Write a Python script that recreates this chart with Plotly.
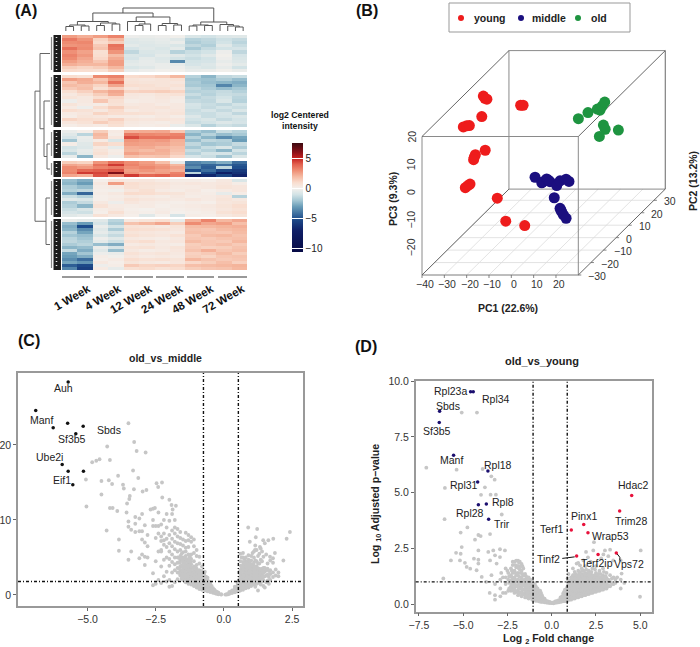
import plotly.graph_objects as go
import numpy as np

W, H = 700, 647
FONT = "Liberation Sans"

# ---------- heatmap data ----------
week_labels = ["1 Week","4 Week","12 Week","24 Week","48 Week","72 Week"]
c1 = [
[2.6,2.2,2.6,3.2,-.2,-.3,-.2,-.1,-.8,-1,-.7,-.6],
[3.4,2.8,1.2,2.0,-.6,-.5,-.4,-.6,-1.6,-1.4,-1.1,-1.3],
[3.0,3.1,1.0,1.4,-.7,-.6,-.5,-.3,-1.8,-1.5,-1,-1.5],
[2.8,2.9,1.5,3.6,-.5,-.7,-.6,-.8,-1.4,-1.7,-.6,-1.2],
[3.6,3.0,1.7,3.4,-.9,-.6,-.8,-.5,-1.9,-1.3,-1.0,-.9],
[2.9,2.5,.8,2.8,-1.4,-.8,-.7,-1.6,-1.2,-1.0,-.2,-1.4],
[3.2,2.7,.9,1.9,-.8,-.9,-.5,-.6,-1.0,-.6,-.1,-.9],
[3.0,2.4,1.1,2.3,-.9,-.5,-.7,-1,-1.2,-1,-.2,-.8],
[2.6,2.2,1.6,2.6,-.6,-.4,-.6,-3.5,-1.0,-.9,-.4,-.7],
[2.2,2.0,2.0,2.6,-.5,-.4,-.3,-.4,-.9,-.7,-.2,-.5],
[1.4,1.2,1.4,2,-.8,-.6,-.3,-.2,-.6,-.8,-.4,-1],
[1,.9,.8,1.4,-.4,-.2,-.1,-.1,-.4,-.3,-.1,-.3]]
c2 = [
[.9,.7,3,3.2,1,1.1,1.4,2,-1.6,-2.4,-1.4,-1.2],
[2.6,2.3,1.6,2.6,.6,.5,.6,.7,-2,-2.1,-1.8,-2.2],
[1.6,2.2,2,3.6,.7,.6,.6,.5,-1.8,-2.2,-2.4,-2.6],
[1.9,1.7,1.2,2.4,.9,.8,.6,.7,-1.9,-2,-3.6,-2.4],
[1.5,1.8,.8,1.3,.5,.7,.8,.5,-1.4,-1.8,-2.2,-1.9],
[.8,1.3,2,2.4,1.2,1.3,1.4,1.2,-1.6,-1.5,-1.3,-1.6],
[.4,.8,1.4,2.2,.5,.4,.6,.7,-1.2,-1.6,-1.2,-1.3],
[.6,.4,.9,1.1,.4,.3,.5,.3,-1.6,-1.3,-1,-1.5],
[-.2,.4,1.6,.8,.2,.3,.4,.2,-1.3,-1.4,-.8,-1.6],
[.6,.3,.2,.7,.4,.5,.3,.4,-.9,-1.2,-1.4,-1],
[.3,-.2,.9,1.4,.6,.5,.6,.4,-1,-1.3,-1,-1.2],
[.9,.7,.4,1,.3,.5,.4,.5,-1.2,-.9,-1.3,-.8],
[.3,.5,1.2,.9,.8,.7,.5,.6,-1.1,-1.2,-.9,-1.4],
[.2,.6,.5,.3,.3,.2,.4,.2,-.7,-1.2,-1,-.8],
[1.2,.9,.8,1.3,.6,.5,.6,.5,-1,-.8,-1.3,-1],
[.5,.7,1.4,1,.4,.3,.2,.4,-1.2,-1,-.7,-.9],
[.2,.4,.3,.8,.3,.2,.3,-.3,-.8,-1.6,-1.1,-1.3]]
c3 = [
[-.3,.1,1.4,.3,2.2,2.3,2.4,1.6,-1.8,-2.2,-1.2,-1.6],
[-.6,-1.5,2,.2,3.4,3.1,3,3.2,-2.4,-1.6,-2.2,-1.9],
[-.9,-.3,1.8,.5,4.3,3.6,3.6,3.4,-1.6,-2.4,-3.4,-2.8],
[-2,-.4,.3,-.8,2.8,2.6,2.7,2.2,-2.2,-1.4,-1.6,-3],
[.2,-.6,1.2,.9,2.6,2.5,2.4,2.1,-1.4,-2,-1.8,-1.3],
[-1,-.7,.4,-.4,2.2,2.3,2,1.8,-1.9,-1.2,-.8,-1.8],
[-.8,-.4,.6,.2,2.1,1.9,2.2,1.7,-1.2,-1.6,-2.4,-1],
[-1.5,-.5,.8,.3,2.5,2.2,2.1,1.5,-1.6,-1,-.9,-1.5],
[-.4,-2.4,.4,-.2,1.8,1.6,1.7,1.1,-.9,-1.2,-2,-.8]]
c4 = [
[1.4,1.2,2.8,3.6,3,2.6,1.8,-.4,-3.6,-3.2,-2.6,-4.2],
[2.4,2.2,3.6,4.6,3.2,2.8,2.6,2,-4,-4.4,-4.2,-4.8],
[3,2.7,3.2,3.4,2.9,3.1,2.8,2.4,-3.4,-4.6,-1.4,-5],
[3,3.8,4,4.2,2.6,2.8,2.5,2.2,-5,-4.2,-5.4,-5.8],
[3.2,4.6,4.4,6.2,2.8,2.4,2.6,3.2,-1.5,-5.2,-7,-6.2],
[2.4,2.2,4.2,3.2,4.6,3.8,4,3.4,-7.5,-6.6,-5.4,-6.8]]
c5 = [
[-2.2,-2.6,.1,.5,.4,.5,.3,.2,.2,.1,.4,-.8],
[-2.4,-3,.4,2.6,.9,.7,.6,.4,.5,.4,.5,.2],
[-1.8,-2.2,.2,.3,.8,.6,.5,.3,.3,.4,.6,.5],
[-1.6,-1.4,.1,-.1,.5,.8,.3,.2,.4,.1,.3,.5],
[-2.6,-4.4,.2,.4,1,.9,.7,.6,.3,.2,-.4,.2],
[-1.2,-1.6,.1,.2,.4,.3,.2,.4,.2,.3,.5,-1.6],
[-.6,-.8,.1,.3,.7,.5,.4,.3,.5,.3,.6,.4],
[-1.8,-1.3,.4,-.2,.5,.3,.2,.1,.2,.1,.5,.6],
[-1.6,-2.4,.7,.3,.2,.3,.1,.2,.3,.4,.6,.9],
[-1.2,-.8,.2,.4,.1,0,.2,.1,.2,.3,.5,.7],
[-.9,-1.1,.1,.8,.2,.1,.3,0,.1,.2,.7,.9],
[-.6,-.4,.7,.4,.1,-.6,0,-.9,.2,.1,.4,.6]]
c6 = [
[-.3,-.5,-.6,-1.5,.4,.6,.9,-.4,2.2,3.2,2,2.4],
[-2.2,-3,-.9,-1.8,1.7,2,2.4,1.4,3,2.4,2.6,1.8],
[-2.6,-5,-.3,-1,.7,.6,.4,.6,1.9,2,2.1,2.2],
[-2.4,-3.4,-.6,-1.8,.9,.8,.7,.5,1.7,1.6,1.9,2],
[-1.6,-2.8,-.4,-.9,.6,.5,.4,.3,1.8,1.7,1.6,1.9],
[-2,-2.2,-.8,-1.3,.8,.6,.5,.7,1.5,1.9,2,1.7],
[-1.5,-2,-.2,-.6,.4,.3,.2,.4,1.6,1.5,1.7,1.8],
[-1.4,-1.7,-.5,-1.1,.7,.9,.4,.5,1.9,1.6,1.5,2],
[-1.8,-1.5,-2.2,-2.6,.3,.4,.3,.2,1.4,1.6,1.8,1.5],
[-2.4,-2.2,-.3,-.9,.6,.7,.4,.6,1.5,1.3,1.4,1.7],
[-1.3,-2.6,-.6,-2.2,.4,.2,.3,.5,1.7,2.2,1.6,1.8],
[-2.8,-2,-.2,-.3,.7,.5,.6,.4,1.3,1.5,1.9,1.4],
[-3,-2.6,.2,-.1,.5,.3,.4,.3,1.4,1.2,1.6,1.7],
[-3.4,-4.2,.1,.3,.9,.7,.8,.6,2,1.7,1.5,1.6],
[-2.8,-3.2,.4,.1,.6,.4,.3,.5,1.1,1.4,1.8,1.3],
[-4.6,-5.2,-.2,.2,1.5,1.2,1.3,1.2,1.8,1.9,2,2.1],
[-3.6,-5.6,.3,-.4,.8,1,.7,.9,1.4,1.6,1.7,2]]
color_ticks = [-10, -5, 0, 5]

# ---------- PCA data ----------
young_pc1 = [-35.1,-34.4,-33.5,-35.8,-18.4,-17.3,-35.6,-34.1,-32.9,-25.8,-30.2,-30.7,-31,-32.6,-33.6,-34.7,-20.4,-16.6,-8.1]
young_pc2 = [10,10,10,10,10,10,-5,-5,-5,-5,-5,-5,-5,-5,-5,-5,-5,-5,-5]
young_pc3 = [16.6,15.8,15.5,9.2,13.3,13.3,12.2,12.6,12.7,3.8,2.2,1.3,.4,-8.4,-9,-9.7,-13.5,-21.8,-23.4]
middle_pc1 = [-6.3,-3.3,-2.6,-1.1,-.4,.4,3.4,4.9,7.6,8.9,2.3,4.9,5.2,5.6,6.4,7.6]
middle_pc2 = [0]*16
middle_pc3 = [-8.2,-10.2,-9.8,-8.8,-9.2,-9.8,-11.2,-9.5,-8.9,-9.7,-15.6,-19.4,-20,-20.6,-21.8,-23]
old_pc1 = [-1,3.3,7.5,8.7,9.7,10.8,10.2,11,16.9,8.4]
old_pc2 = [25]*10
old_pc3 = [1.7,3.9,5.2,4.8,6.3,7.7,-.6,-2.1,-2.4,-4.7]
pc1_ticks = [-40,-30,-20,-10,0,10,20]
pc2_ticks = [-30,-20,-10,0,10,20,30]
pc3_ticks = [-20,-10,0,10,20]
group_names = ["young","middle","old"]

# ---------- old_vs_middle ----------
cm_hit_x = [-5.71,-6.9,-6.26,-5.73,-5.16,-5.43,-5.93,-5.71,-5.15,-5.54]
cm_hit_y = [28.4,24.6,22.3,22.9,22.5,21.5,17.4,16.5,16.5,14.7]
cm_top_x = [-3.5,-3.29,-3.2,-2.87,-4.28,-4.18,-4.56,-4.68,-4.83,-3.33,-3.14,-3.88,-5.06,-4.49,-4.22,-4.1,-3.7,-3.67,-4.49,-3.3,-2.84,-2.98,-2.47,-2.27,-2.41,-3.45,-3.47,-3.55,-2.26,-2,-1.92,-1.76,-1.88,-5.04,-4.18,-4.08,-3.91,-3.57,-2.69,-2.53,-4.3]
cm_top_y = [22.9,20.4,19.2,19,19.8,18,18.1,17.9,17.7,16.6,15.6,15.9,15.4,15.2,15.3,14.8,14.7,14.2,13.4,14.1,14,13.8,14.9,15,14.4,13.2,12.8,12.2,13,12.7,12,11.9,11.4,11.8,11.6,11.6,11.2,11,11.4,11.6,8.6]
cm_col_x = [-3.85,-3.5,-3.4,-3.25,-3.1,-3,-2.9,-2.8,-2.6,-2.5,-2.4,-2.3,-2.2,-2.1,-2,-1.9,-1.8,-1.7,-1.6,-1.5,-1.4,-1.3,-1.2,-1.1,-1,-.9,-.8,-.7,-.6,-.5,-.4,-.3,-.2,-.1,
            -1.55,-1.25,-1.05,-.85,-.75,-.65,-.55,-.45,-.35,-.25]
cm_col_y = [[7.4,5.9],[4.7,9.1,9.8],[5.8,8.7],[8.4,9.5,10.4],[8.5,10.2,4.9],[8.5,7.4,5.4,10.8],[4,5.1,7,9.3],[5,6.5,8],[2.9,9.2,10,11.5,1.3],[1.5,4.5,7.6,9.2],[2,5.8,8.2,9.2,11],
[1.6,3.8,5.8,6,7.2,7.8,9.4],[2.5,4.7,6.7,7.3,8.2,10],[1.8,3.1,5,6.4,7.5,9,10.8],[1.1,2,3.9,4.8,5.8,6.9,8,9.9],[1.2,3,4.4,5.4,6.5,7.5,8.6,10.8],[1.7,3.3,4.1,5,6.1,7.1,8.2,9,10],
[2.1,3,3.6,4.3,5,5.8,6.9,7.8,8.8],[2.6,3.2,3.8,4.6,5.2,6,6.8,7.6,8.4],[2,2.5,3,3.6,4.3,5,5.7,6.6,7.4],[1.7,2.2,2.8,3.4,4,4.6,5.2,5.8,6.3,7.2,8.3],[1.5,2,2.4,3,3.6,4.2,4.8,5.4,6.4,7.3,8],
[1.4,1.8,2.1,2.4,2.7,3,3.5,4.1,4.8,5.4,7.1,7.7],[1.2,1.6,1.9,2.2,2.5,2.9,3.2,3.8,4.5,5.6,6.5,7.4],[1,1.4,1.7,2,2.3,2.6,3,3.5,4,5.2,6],[.8,1.1,1.5,1.8,2.1,2.4,2.8,3.3,4.2,5.1],[.7,1,1.3,1.6,1.9,2.3,2.7,3.2,3.8],[.6,.9,1.2,1.5,1.8,2.1,2.5,3.1],[.5,.75,1,1.3,1.6,1.9,2.3],[.4,.6,.8,1.05,1.3,1.6],[.3,.5,.7,.9],[.2,.35,.5],[.1,.2,.3],[.05,.1],
[2.2,3,3.9,4.9,5.5],[1.8,2.6,3.3,4.4,5.1],[1.3,1.8,2.4,3.1,3.7],[.9,1.3,1.7,2.2,2.6],[.8,1.1,1.5,1.9,2.4,2.9],[.7,1,1.4,1.7,2.1,2.4],[.6,.9,1.2,1.5,1.8],[.45,.7,.95,1.2],[.3,.5,.7],[.15,.3,.4]]
cm_left_fill_x = [-.62,-.72,-.82,-.92,-1.02,-1.12,-1.22,-1.32,-1.42,-1.52,-1.62]
cm_left_fill_y = [[.6,.85,1.15,1.45,1.75,2.1],[.75,1.05,1.35,1.65,1.95,2.3,2.8],[.85,1.15,1.45,1.75,2.05,2.5,3],[.95,1.3,1.6,1.95,2.25,2.6,3.1],[1.2,1.55,1.85,2.15,2.45,2.8,3.3],[1.4,1.75,2.05,2.35,2.7,3.05,3.6],[1.6,1.95,2.25,2.55,2.85,3.3,3.8,4.4],[1.75,2.2,2.55,2.85,3.3,3.9,4.5],[1.95,2.5,3.1,3.7,4.3,4.9],[2.25,2.75,3.3,3.95,4.65],[2.9,3.5,4.3,4.9]]
cm_right_x = [.05,.1,.15,.2,.25,.3,.35,.4,.45,.5,.55,.6,.65,.7,.75,.8,.85,.9,.95,1,1.05,1.1,1.15,1.2,1.25,1.3,1.35,1.4,1.45,1.5,1.55,1.6,1.65,1.7,1.8,1.9,2,
              .89,1.22,2.42,2.3,1.81,1.44,1.63,1.5,1.17,.95,1.32,1.14,1.87,1.69,2.18]
cm_right_y = [[.05],[.05,.12],[.1],[.15,.3,.4],[.3],[.25,.45,.6],[.5],[.35,.6,.85,1.1],[.5,.9],[.5,.75,1,1.3,1.6],[.7,1.2,1.8],[.6,.9,1.2,1.5,1.9,2.3,2.8,3.3,4.5,5.5],[.8,1.4,2.1,2.6,3.6,5],
[.7,1,1.3,1.6,2,2.4,2.8,3.3,3.8,4.4,5,5.6],[.9,1.5,2.2,3,3.6,4.2,4.8],[.9,1.2,1.6,2,2.4,2.8,3.2,3.6,4,4.5,5],[1.1,1.8,2.6,3.4,4.4],[1,1.4,1.8,2.2,2.6,3,3.4,3.8,4.2,4.7,5.3],[1.3,2,2.8,3.5,4.5],
[1.2,1.7,2.1,2.5,2.9,3.3,3.7,4.1,4.6,5.2],[1.5,2.2,3,3.9,5.6],[1.4,1.9,2.3,2.7,3.1,3.5,3.9,4.3,5,5.8],[1.1,2,2.9,3.6,4.6,6.6],[1.5,2,2.5,2.9,3.3,3.8,4.5,6],[.6,1.7,2.6,3.4,4.2,5.2],[1.6,2.1,2.6,3,3.5,4.2,5.5],[1.4,2.3,3.2,4.7,6.2],[1.8,2.3,2.8,3.5,4.5,5.8],[1.2,2,3,3.6,5.1],[1,2.5,3.1,3.6],[1.7,2.6,3.3,5.4],[1.9,2.7,3.5,4.2],[1.5,2.4,3.2],[2,2.8,3.3,4.6],[2.4,3,4.3,4.9],[2.6,3.4],[2.5,3],
[9],[8.8],[8.4],[7.5],[7.5],[7.3],[7.3],[6.9],[7.7],[7.1],[6.4],[6],[5.6],[5.1],[4.6]]
cm_right_fill_x = [.42,.52,.57,.62,.72,.82,.92,1.02,1.12,1.22,1.32,1.42]
cm_right_fill_y = [[.45,.7,.95],[.55,.85,1.15,1.45],[.6,.95,1.3,1.7,2.1],[1,1.7,2.5,3.1,3.9],[1.15,1.8,2.6,3.5,4.2],[1.05,1.4,2.2,3,3.4,3.8,4.3],[1.2,1.6,2,2.4,2.9,3.6,4],[1.4,1.9,2.3,2.7,3.1,3.5,3.9],[1.6,2.1,2.5,2.9,3.3,3.7],[1.8,2.2,2.7,3.1,3.6],[1.9,2.4,2.8,3.2],[2,2.5,3.1]]

# ---------- old_vs_young ----------
cy_down_x = [-4.58,-4.43,-6.33,-6.35,-5.54,-3.6,-4.18,-4.14,-3.69,-3.56]
cy_down_y = [9.52,9.52,8.65,8.14,6.68,5.97,5.48,4.46,4.49,3.81]
cy_up_x = [4.52,3.84,1.81,1.11,2.05,1.41,2.62,3.65]
cy_up_y = [4.87,4.18,3.57,3.32,3.2,2.16,2.23,2.29]
cy_sparse_x = [-5.08,-4.22,-7.08,-5.37,-3.9,-3.41,-3.22,-3.77,-6.03,-3.99,-3.45,-3.15,-2.82,-6.05,-4.76,-5.14,-4.14,-4.01,-4.33,-3.48,
               -6.12,-5.69,-5.08,-5.14,-5.18,-4.8,-4.39,-4.14,-4.14,-4.14,-3.58,-3.3,-2.92,-2.64,-3.2,-3.48,-3.11,-2.92,-3.95,-3.7,-4.24,-4.6,-2.5,-2.2,-2.85,-3.4,-4.9,-5.4,
               5.03,4.99,2.39,3.01,3.3,1.94,2.35,2.92,3.48,3.95,3.9,1.79,1.41,1.6,2.2,2.8,3.2,1.5,1.2,.95,.9,4.1,3.7,2.05]
cy_sparse_y = [8.59,8.59,6.12,6.03,6.06,5.73,5.58,5.24,5.21,4.9,4.91,4.91,4.02,3.81,3.44,3.21,3.1,3.05,2.89,3.14,
               1.15,1.96,2.56,2.26,1.96,1.67,2.04,1.99,2.41,1.82,2.34,2.41,2.46,2.41,2.19,1.96,1.82,2.11,1.22,1,1.52,1.59,1.5,1.75,1.4,1.3,1.85,2.3,
               2.41,.33,2.78,2.41,2.44,2.34,2.41,2.23,1.96,1.37,1.96,1.96,1.82,1.74,1.9,2.05,2.15,1.85,1.6,1.35,1.15,.95,1.2,2.1]
cy_col_x = [-3.5,-3.2,-2.9,-2.75,-2.6,-2.45,-2.3,-2.2,-2.1,-2,-1.9,-1.8,-1.7,-1.6,-1.5,-1.4,-1.3,-1.2,-1.1,-1,-.9,-.8,-.7,-.6,-.5,-.4,-.3,-.2,-.1,0,
            .1,.2,.3,.4,.5,.6,.7,.8,.9,1,1.1,1.2,1.3,1.4,1.5,1.6,1.7,1.8,1.9,2,2.1,2.2,2.3,2.4,2.5,2.6,2.7,2.8,2.9,3,3.1,3.2,3.3,3.5,3.6,3.9]
cy_col_y = [[.5],[.4,.2,.9],[.35,.7,1.1],[.5,1.2],[.5,.9,1.2,1.6],[.6,1.1,1.4],[.6,.8,1.05,1.3,1.6],[.7,1.4,1.9],[.5,.7,.95,1.2,1.5,1.9],[.55,1,1.3,1.65,1.95],[.4,.6,.85,1.1,1.4,1.7,1.95],[.5,.75,1,1.55,1.9],[.35,.55,.75,.95,1.2,1.5,1.8],[.45,.65,1,1.3,1.6],[.3,.5,.7,.9,1.1,1.35],[.3,.6,.85,1.2],[.25,.4,.6,.8,1,1.2],[.3,.5,.7,.95,1.1],[.2,.35,.5,.65,.85,1.05],[.2,.4,.6,.8],[.15,.3,.45,.6,.8],[.15,.25,.4,.55,.7],[.12,.25,.4,.55],[.1,.2,.35,.5],[.1,.2,.3],[.08,.16,.25],[.07,.14],[.06,.12],[.05,.1],[.05],
[.04,.08],[.06,.12],[.07,.14],[.08,.18],[.1,.2,.3],[.12,.24,.36],[.13,.25,.4,.55],[.14,.3,.45,.6],[.15,.3,.45,.6,.8,1],[.2,.4,.55,.75,.95],[.2,.35,.5,.65,.8,1,1.2],[.25,.4,.6,.85,1.05,1.3],[.25,.4,.6,.8,1,1.2,1.45],[.3,.45,.65,.9,1.15],[.3,.5,.7,.9,1.1,1.3,1.5],[.35,.55,.8,1,1.2,1.45],[.35,.55,.75,.95,1.15,1.35,1.6],[.4,.6,.8,1.05,1.25,1.5],[.4,.6,.8,1,1.2,1.4,1.7],[.45,.7,.9,1.1,1.3],[.45,.65,.85,1.05,1.25,1.5],[.5,.7,.9,1.15,1.35],[.5,.7,.9,1.1,1.3,1.6],[.55,.75,1,1.2],[.55,.75,.95,1.15,1.4,1.7],[.6,.8,1,1.25],[.6,.8,1,1.2,1.5],[.65,.85,1.1],[.65,.85,1.05,1.3,1.6],[.7,.9,1.15],[.7,.9,1.15,1.4],[.8,1.05],[.8,1,1.3],[.9,1.2],[.95,1.1],[.7,1.1]]
cy_fill_x = [.65,.75,.85,.95,1.05,1.15,1.25,1.35,1.45,1.55,1.65,1.75,1.85,1.95,2.05,2.15,2.25,2.35,2.45,2.55,2.65,2.75,2.85,2.95,3.05,3.2,3.4,
             -.55,-.65,-.75,-.85,-.95,-1.05,-1.15,-1.25,-1.35,-1.45,-1.55,-1.65,-1.75,-1.85,-1.95,-2.05,-2.15,-2.25,-2.4]
cy_fill_y = [[.18,.32,.48],[.2,.34,.5,.65],[.22,.38,.52,.7],[.23,.38,.52,.7,.9],[.28,.45,.62,.85,1.05],[.3,.47,.72,.95,1.15],[.32,.5,.7,.9,1.1,1.3],[.35,.52,.72,.95,1.1,1.35],[.38,.55,.78,1,1.25],[.4,.6,.8,1,1.2,1.4],[.42,.65,.85,1.1,1.3],[.45,.65,.85,1.05,1.25,1.5],[.5,.7,.9,1.15,1.35],[.5,.7,.9,1.1,1.3,1.55],[.55,.75,.95,1.15,1.4],[.55,.75,.95,1.15,1.35],[.6,.8,1,1.2,1.45],[.6,.8,1,1.25],[.65,.85,1.05,1.3,1.55],[.65,.85,1.1,1.3],[.7,.9,1.1,1.35],[.7,.9,1.1,1.35],[.75,.95,1.2],[.8,1,1.2,1.45],[.8,1,1.25],[.85,1.1],[.9,1.15],
[.14,.26,.4],[.16,.3,.45,.6],[.2,.33,.48,.62],[.22,.36,.5,.68],[.24,.4,.55,.72,.9],[.28,.45,.6,.75,.95],[.3,.45,.6,.78,1],[.32,.5,.7,.9,1.1],[.35,.52,.72,.92,1.1],[.4,.6,.8,1,1.25],[.45,.65,.85,1.05,1.3],[.45,.65,.85,1.1,1.35,1.7],[.5,.7,.9,1.1,1.4,1.7],[.5,.7,.95,1.25,1.6,1.85],[.55,.8,1.05,1.35,1.7],[.6,.85,1.1,1.4,1.75],[.6,.85,1.1,1.45],[.65,.9,1.2,1.5],[.7,.95,1.25]]

def expand(xs, cols):
    out_x, out_y = [], []
    for x, ys in zip(xs, cols):
        for y in ys:
            out_x.append(x); out_y.append(y)
    return out_x, out_y

# ---------- helpers ----------
def fx(px): return px / W
def fy(py): return 1 - py / H

fig = go.Figure()
layout = dict(
    width=W, height=H, margin=dict(l=0, r=0, t=0, b=0, autoexpand=False),
    paper_bgcolor="white", plot_bgcolor="rgba(0,0,0,0)", font=dict(family=FONT, color="#222", size=10),
    hovermode=False, showlegend=False,
    xaxis9=dict(domain=[0, 1], range=[0, W], visible=False, fixedrange=True, anchor="y9"),
    yaxis9=dict(domain=[0, 1], range=[H, 0], visible=False, fixedrange=True, anchor="x9"),
)
shapes, annos = [], []

def page_text(px, py, text, size=10, bold=False, angle=0, color="#222", xanchor="center"):
    t = f"<b>{text}</b>" if bold else text
    annos.append(dict(x=fx(px), y=fy(py), xref="paper", yref="paper", text=t, showarrow=False,
                      textangle=angle, xanchor=xanchor, yanchor="middle",
                      font=dict(family=FONT, size=size, color=color)))

def page_lines(segs, color, width):
    xs, ys = [], []
    for (a, b, c, d) in segs:
        xs += [a, c, None]; ys += [b, d, None]
    fig.add_trace(go.Scatter(x=xs, y=ys, xaxis="x9", yaxis="y9", mode="lines",
                             line=dict(color=color, width=width), showlegend=False, hoverinfo="skip"))

# ---------- (A) heatmap ----------
HX0, HX1, HY0, HY1 = 62, 247, 35, 270
layout["xaxis"] = dict(domain=[fx(HX0), fx(HX1)], range=[0, 12], anchor="y", showline=False, showgrid=False, zeroline=False,
                       tickvals=[1.7,3.7,5.7,7.7,9.7,11.7], ticktext=[f"<b>{w}</b>" for w in week_labels], tickangle=-30,
                       ticks="outside", ticklen=7, tickcolor="rgba(0,0,0,0)", tickfont=dict(size=11.5, color="#111", family=FONT), fixedrange=True)
layout["yaxis"] = dict(domain=[fy(HY1), fy(HY0)], range=[HY1, HY0], anchor="x", visible=False, fixedrange=True)
clusters = [c1, c2, c3, c4, c5, c6]
extents = [(35, 72), (75, 127), (130, 158), (161, 177), (179, 217), (219, 270)]
for z, (a, b) in zip(clusters, extents):
    n = len(z)
    h = (b - a) / n
    ys = [a + h * (i + .5) for i in range(n)]
    fig.add_trace(go.Heatmap(z=z, x=[i + .5 for i in range(12)], y=ys, coloraxis="coloraxis", xaxis="x", yaxis="y", hoverinfo="skip"))

stops = [(-10.5,"#070A45"),(-7,"#0F1F66"),(-5,"#1F4E8C"),(-3,"#6A9DB8"),(-2,"#A3C6D3"),(-1,"#D3E3E6"),(0,"#F4F0EC"),
         (1,"#F9DCCD"),(2,"#F5B8A0"),(3,"#EE8C72"),(4,"#E2604E"),(5,"#C4201F"),(6,"#8A1018"),(7.5,"#3B0A10")]
layout["coloraxis"] = dict(cmin=-10.5, cmax=7.5, colorscale=[[(v + 10.5) / 18, c] for v, c in stops],
    colorbar=dict(x=fx(292), xanchor="left", xpad=0, y=fy(197.5), yanchor="middle", ypad=0, len=109, lenmode="pixels",
                  thickness=11, thicknessmode="pixels", outlinewidth=0, tickvals=color_ticks, ticks="inside", ticklen=11,
                  tickcolor="white", tickwidth=1, tickfont=dict(size=10, color="#222", family=FONT)))
page_text(300, 115, "log2 Centered", 8.7, True, color="#111")
page_text(300, 125.5, "intensity", 8.7, True, color="#111")

# group bars under the heatmap
group_edges = [(62,90),(94,122),(124,153),(156,184),(187,214),(218,247)]
page_lines([(a, 277, b, 277) for a, b in group_edges], "#777", 1.5)

# column dendrogram
TL = lambda i: HX0 + (HX1 - HX0) * (i + .5) / 24
w1 = (6, (4.5, 0, 1), (5, 2, 3))
w4 = (8, (5.5, 4, 5), (7, 6, 7))
left_tree = (9.5, w1, w4)
n12 = (9.5, 8, (7, (5.5, 9, 10), 11))
n24 = (7.5, (5.5, 12, 13), (6, 14, 15))
mid_tree = (14, n12, n24)
n48 = (6, (5, 16, 17), (5.5, 18, 19))
n72 = (6.5, 20, (5, 21, (4, 22, 23)))
right_tree = (9, n48, n72)
col_tree = (23, (18, left_tree, mid_tree), right_tree)
col_segs = []
def walk_col(node):
    if isinstance(node, int):
        return TL(node), 0
    h, l, r = node
    lx, lh = walk_col(l); rx, rh = walk_col(r)
    Y = lambda q: 31 - q
    col_segs.extend([(lx, Y(lh), lx, Y(h)), (lx, Y(h), rx, Y(h)), (rx, Y(rh), rx, Y(h))])
    return (lx + rx) / 2, h
walk_col(col_tree)
page_lines(col_segs, "#555", 1)

# row dendrogram
row_tree = (27, (22, 0, (18, 1, (15, 2, 3))), (16, 4, 5))
row_segs = []
def centre(i): return sum(extents[i]) / 2
def walk_row(node):
    if isinstance(node, int):
        return centre(node), 12
    d, a, b = node
    ay, ad = walk_row(a); by, bd = walk_row(b)
    X = lambda q: 62 - q
    row_segs.extend([(X(ad), ay, X(d), ay), (X(d), ay, X(d), by), (X(bd), by, X(d), by)])
    return (ay + by) / 2, d
walk_row(row_tree)
page_lines(row_segs, "#666", 1)
for a, b in extents:
    shapes.append(dict(type="rect", xref="x9", yref="y9", x0=53.5, x1=61, y0=a, y1=b, fillcolor="#1c1c1c", line=dict(width=0), layer="above"))
    shapes.append(dict(type="line", xref="x9", yref="y9", x0=56.5, x1=56.5, y0=a + 2, y1=b - 2, line=dict(color="#E8E8E8", width=1.5, dash="1px,3px"), layer="above"))
    shapes.append(dict(type="line", xref="x9", yref="y9", x0=51.5, x1=51.5, y0=a + 2, y1=b - 2, line=dict(color="#888", width=1.2), layer="above"))

# ---------- (B) projected PCA ----------
P1, P2, P3 = (-40, 30), (-30, 39), (-30, 20)
def proj(p1, p2, p3):
    return 422 + (p1 + 40) * 2.233 + (p2 + 30) * 1.26, 275 - (p3 + 30) * 2.77 - (p2 + 30) * 1.245
def seg(a, b):
    return proj(*a) + proj(*b)
floor = []
for t in pc1_ticks:
    floor.append(seg((t, P2[0], P3[0]), (t, P2[1], P3[0])))
for t in pc2_ticks:
    floor.append(seg((P1[0], t, P3[0]), (P1[1], t, P3[0])))
page_lines(floor, "#DCDCDC", 0.8)
box_grey = [seg((P1[0],P2[0],P3[0]),(P1[1],P2[0],P3[0])), seg((P1[1],P2[0],P3[0]),(P1[1],P2[0],P3[1])),
            seg((P1[0],P2[0],P3[0]),(P1[0],P2[0],P3[1])), seg((P1[0],P2[1],P3[0]),(P1[1],P2[1],P3[0])),
            seg((P1[0],P2[1],P3[0]),(P1[0],P2[1],P3[1])), seg((P1[0],P2[0],P3[1]),(P1[1],P2[0],P3[1])),
            seg((P1[0],P2[1],P3[1]),(P1[1],P2[1],P3[1]))]
page_lines(box_grey, "#8A8A8A", 1)
box_dark = [seg((P1[0],P2[0],P3[1]),(P1[0],P2[1],P3[1])), seg((P1[1],P2[0],P3[1]),(P1[1],P2[1],P3[1])),
            seg((P1[1],P2[1],P3[0]),(P1[1],P2[1],P3[1])), seg((P1[0],P2[0],P3[0]),(P1[0],P2[1],P3[0])),
            seg((P1[1],P2[0],P3[0]),(P1[1],P2[1],P3[0]))]
page_lines(box_dark, "#555", 0.9)
tick_marks = []
for t in pc1_ticks:
    a, b = proj(t, P2[0], P3[0]); tick_marks.append((a, b, a, b + 3))
    page_text(a + 3, b + 9, f"\u2212{abs(t)}" if t < 0 else str(t), 10.5, color="#333")
for t in pc2_ticks:
    a, b = proj(P1[1], t, P3[0]); tick_marks.append((a, b, a + 3, b))
    page_text(a + 8, b + 1, f"\u2212{abs(t)}" if t < 0 else str(t), 10.5, color="#333", xanchor="left")
for t in pc3_ticks:
    a, b = proj(P1[0], P2[0], t)
    page_text(a - 11, b, f"\u2212{abs(t)}" if t < 0 else str(t), 10.5, angle=-90, color="#333")
page_lines(tick_marks, "#666", 0.8)
group_colors = ["#EE1C1C", "#1B0F7F", "#1E9440"]
group_data = [(young_pc1, young_pc2, young_pc3), (middle_pc1, middle_pc2, middle_pc3), (old_pc1, old_pc2, old_pc3)]
for name, color, (p1, p2, p3) in zip(group_names, group_colors, group_data):
    xy = [proj(a, b, c) for a, b, c in zip(p1, p2, p3)]
    fig.add_trace(go.Scatter(x=[q[0] for q in xy], y=[q[1] for q in xy], xaxis="x9", yaxis="y9", mode="markers", name=name,
                             marker=dict(size=11, color=color), showlegend=False, hoverinfo="skip"))
# hand-placed key box, tighter than plotly's legend allows
shapes.append(dict(type="rect", xref="x9", yref="y9", x0=449, x1=630, y0=3, y1=32, line=dict(color="#999", width=1), fillcolor="white", layer="below"))
key_marker_x = [461, 521, 578]
key_text_x = [472, 530, 589]
fig.add_trace(go.Scatter(x=key_marker_x, y=[18] * 3, xaxis="x9", yaxis="y9", mode="markers",
                         marker=dict(size=6, color=group_colors), showlegend=False, hoverinfo="skip"))
for tx, name in zip(key_text_x, group_names):
    page_text(tx, 18, name, 10.5, True, xanchor="left")
page_text(508, 308, "PC1 (22.6%)", 10.5, True, color="#222")
page_text(393, 199, "PC3 (9.3%)", 10.5, True, angle=-90, color="#222")
page_text(693, 181, "PC2 (13.2%)", 10.5, True, angle=-90, color="#222")

# ---------- (C), (D) volcano ----------
GREY = "#C6C6C6"
def axis_common(**kw):
    d = dict(showgrid=False, zeroline=False, showline=True, mirror=True, linecolor="#999", linewidth=1.5, ticks="outside",
             ticklen=3, tickcolor="#666", tickfont=dict(family=FONT, size=10.5, color="#333"), fixedrange=True)
    d.update(kw); return d
layout["xaxis2"] = axis_common(domain=[fx(18), fx(303)], range=[-7.55, 2.9], anchor="y2", tickvals=[-5,-2.5,0,2.5], tickformat=".1f")
layout["yaxis2"] = axis_common(domain=[fy(606), fy(373)], range=[-1.47, 29.6], anchor="x2", tickvals=[0,10,20])
layout["xaxis3"] = axis_common(domain=[fx(415.7), fx(651.7)], range=[-7.68, 5.65], anchor="y3", tickvals=[-7.5,-5,-2.5,0,2.5,5], tickformat=".1f")
layout["yaxis3"] = axis_common(domain=[fy(611.7), fy(380.7)], range=[-.34, 10.02], anchor="x3", tickvals=[0,2.5,5,7.5,10], tickformat=".1f")
page_text(548, 639, "Log <sub>2</sub> Fold change", 10.5, True, color="#222")
page_text(376, 504, "Log <sub>10</sub> Adjusted p\u2212value", 10.5, True, angle=-90, color="#222")

def pts(xs, ys, ax, color=GREY, size=3.8):
    fig.add_trace(go.Scatter(x=xs, y=ys, xaxis="x" + ax, yaxis="y" + ax, mode="markers", marker=dict(size=size, color=color, line=dict(width=0)),
                             showlegend=False, hoverinfo="skip"))
pts(cm_top_x, cm_top_y, "2")
pts(*expand(cm_col_x, cm_col_y), "2")
pts(*expand(cm_left_fill_x, cm_left_fill_y), "2")
pts(*expand(cm_right_x, cm_right_y), "2")
pts(*expand(cm_right_fill_x, cm_right_fill_y), "2")
pts(cm_hit_x, cm_hit_y, "2", "#111", 3.5)
pts(cy_sparse_x, cy_sparse_y, "3")
pts(*expand(cy_col_x, cy_col_y), "3")
pts(*expand(cy_fill_x, cy_fill_y), "3")
pts(cy_down_x, cy_down_y, "3", "#1B0F6F", 3.5)
pts(cy_up_x, cy_up_y, "3", "#E8123C", 3.5)

def cut_lines(ax, vs, h):
    dash = "3px,2px,1px,2px"
    for v in vs:
        shapes.append(dict(type="line", xref=f"x{ax}", yref=f"y{ax} domain", x0=v, x1=v, y0=0, y1=1, line=dict(color="#111", width=1.4, dash=dash), layer="above"))
    shapes.append(dict(type="line", xref=f"x{ax} domain", yref=f"y{ax}", x0=0, x1=1, y0=h, y1=h, line=dict(color="#111", width=1.3, dash=dash), layer="above"))
cut_lines(2, [-.75, .53], 1.8)
cut_lines(3, [-1.05, .88], 1.0)

def labels(ax, names, xs, ys):
    for n, x, y in zip(names, xs, ys):
        annos.append(dict(x=x, y=y, xref=f"x{ax}", yref=f"y{ax}", text=n, showarrow=False, font=dict(family=FONT, size=10.5, color="#222")))
labels(2, ["Auh","Manf","Sbds","Sf3b5","Ube2i","Eif1"], [-5.87,-6.69,-4.22,-5.56,-6.39,-5.92], [27.6,23.4,21.96,20.76,18.36,15.3])
labels(3, ["Rpl23a","Rpl34","Sbds","Sf3b5","Manf","Rpl18","Rpl31","Rpl8","Rpl28","Trir","Hdac2","Trim28","Pinx1","Terf1","Wrap53","Tinf2","Terf2ip","Vps72"],
       [-5.72,-3.16,-5.86,-6.46,-5.65,-3.01,-4.97,-2.73,-4.6,-2.82,4.61,4.46,1.83,.04,3.3,-.19,2.54,4.35],
       [9.58,9.18,8.9,7.77,6.46,6.26,5.33,4.58,4.09,3.6,5.33,3.74,3.94,3.35,3.05,2.02,1.85,1.79])
fig.add_trace(go.Scatter(x=[.6,1.3,None,3.7,3.85,3.85], y=[2.05,2.12,None,2.25,2.1,1.96], xaxis="x3", yaxis="y3", mode="lines",
                         line=dict(color="#111", width=1), showlegend=False, hoverinfo="skip"))

page_text(165, 358, "old_vs_middle", 10.5, True)
page_text(542, 361, "old_vs_young", 11, True)
page_text(26, 10, "(A)", 16, True, color="#111")
page_text(367, 10, "(B)", 16, True, color="#111")
page_text(29, 340, "(C)", 16, True, color="#111")
page_text(366, 347, "(D)", 16, True, color="#111")

layout["shapes"] = shapes
layout["annotations"] = annos
fig.update_layout(**layout)
fig.write_html("out.html", config={"displayModeBar": False},
               post_script="document.body.style.margin='0';document.documentElement.style.overflow='hidden';window.dispatchEvent(new Event('resize'));")
